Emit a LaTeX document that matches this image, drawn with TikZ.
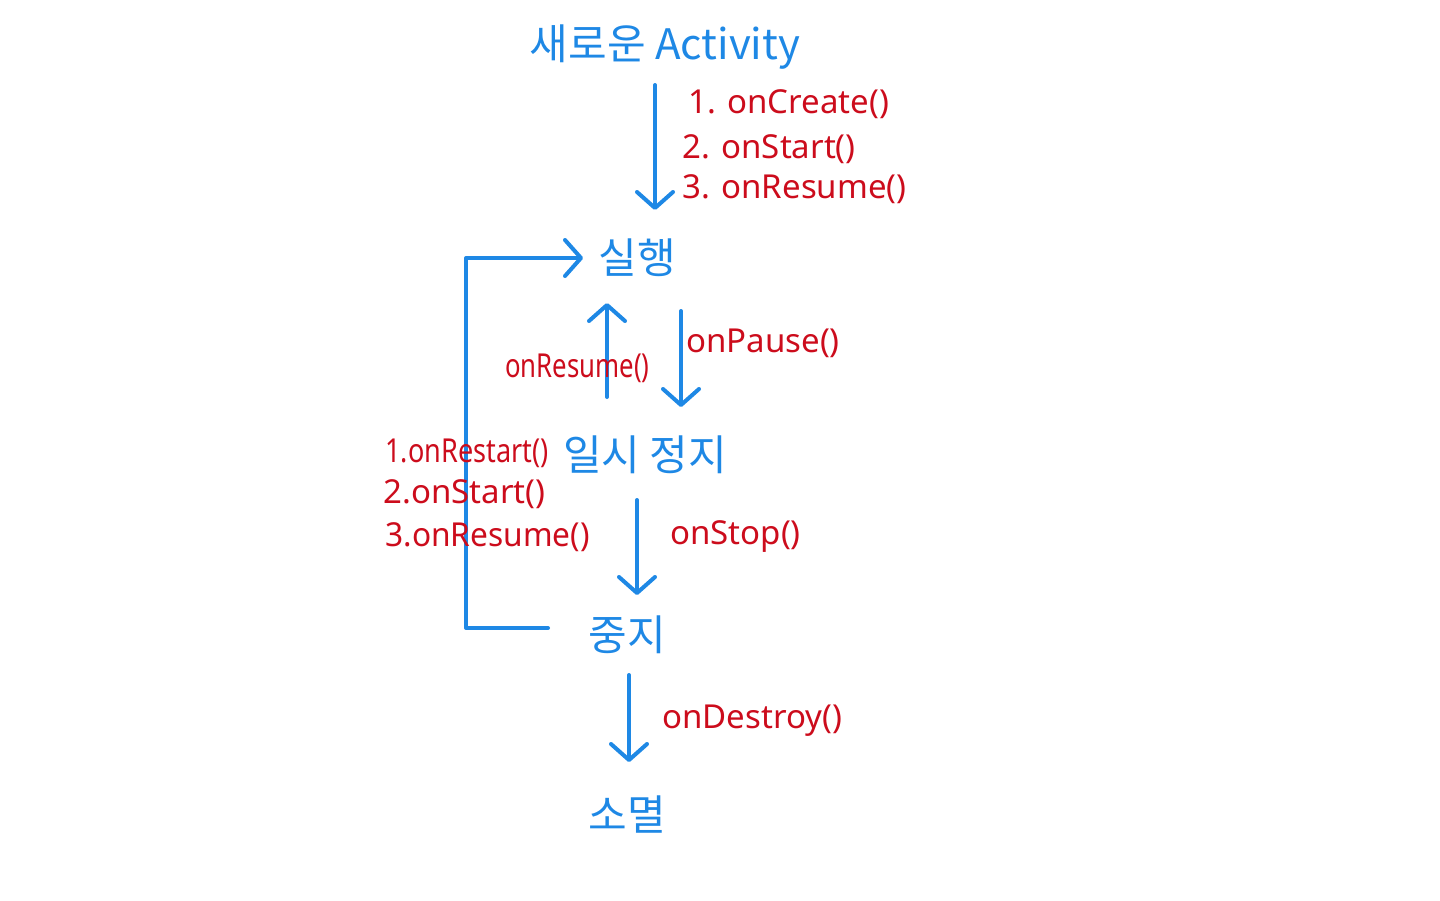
\documentclass[tikz,border=0pt]{standalone}
\usepackage{fontspec}
\setmainfont{Noto Sans}
\newfontfamily\kr{Noto Sans CJK KR}
\usetikzlibrary{arrows.meta}
\definecolor{hblue}{RGB}{30,136,229}
\definecolor{hred}{RGB}{204,12,28}
\newcommand{\narrowtxt}[2]{\scalebox{#1}[1]{#2}}
\begin{document}
\begin{tikzpicture}[x=0.5pt,y=-0.5pt,
  state/.style={text=hblue,font=\kr\fontsize{21}{24}\selectfont,inner sep=0pt},
  lbl/.style={text=hred,font=\fontsize{16.5}{18}\selectfont,inner sep=0pt,anchor=west},
  arr/.style={draw=hblue,line width=2pt,line cap=round,line join=round,-{Straight Barb[length=8pt,width=18pt,line width=2pt,round]}},
  ln/.style={draw=hblue,line width=2pt,line cap=round,line join=round}]
\useasboundingbox (0,0) rectangle (1440,900);
% states
\node[state] (new) at (665,47) {새로운 Activity};
\node[state] (run) at (637,258) {실행};
\node[state] (pause) at (645,455) {일시 정지};
\node[state] (stop) at (627,635) {중지};
\node[state] (dead) at (627,815) {소멸};
% helper coordinates
\coordinate (a1s) at (655,85);
\coordinate (a1e) at (655,210);
\coordinate (ru_s) at (607,397);
\coordinate (ru_e) at (607,303);
\coordinate (pa_s) at (681,311);
\coordinate (pa_e) at (681,407);
\coordinate (st_s) at (637,500);
\coordinate (st_e) at (637,595);
\coordinate (de_s) at (629,675);
\coordinate (de_e) at (629,762);
\coordinate (lp_s) at (548,628);
\coordinate (lp_c1) at (466,628);
\coordinate (lp_c2) at (466,258);
\coordinate (lp_e) at (583,258);
% connectors
\draw[arr] (a1s) -- (a1e);
\draw[arr] (ru_s) -- (ru_e);
\draw[arr] (pa_s) -- (pa_e);
\draw[arr] (st_s) -- (st_e);
\draw[arr] (de_s) -- (de_e);
\draw[arr] (lp_s) -- (lp_c1) -- (lp_c2) -- (lp_e);
% labels
\node[lbl] (l1) at (688,104) {1. onCreate()};
\node[lbl] (l2) at (682,149) {2. onStart()};
\node[lbl] (l3) at (682,189) {3. onResume()};
\node[lbl] (l4) at (505,368) {\narrowtxt{0.78}{onResume()}};
\node[lbl] (l5) at (686,343) {onPause()};
\node[lbl] (l6) at (385,453) {\narrowtxt{0.82}{1.onRestart()}};
\node[lbl] (l7) at (383,494) {2.onStart()};
\node[lbl] (l8) at (385,537) {\narrowtxt{0.96}{3.onResume()}};
\node[lbl] (l9) at (670,537) {onStop()};
\node[lbl] (l10) at (662,721) {onDestroy()};
\end{tikzpicture}
\end{document}
